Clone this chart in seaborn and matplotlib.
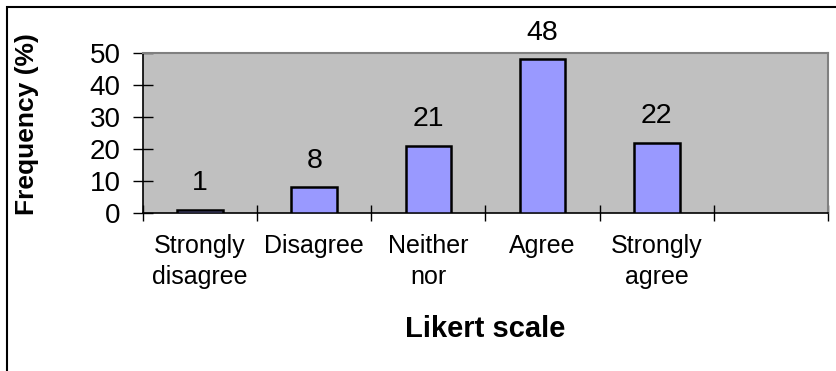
import matplotlib
matplotlib.use("Agg")
import matplotlib.pyplot as plt
import matplotlib.patches as mpatches
import numpy as np
import pandas as pd
import seaborn as sns

# Likert responses (percent of respondents); the sixth slot is an empty category
categories = ["Strongly\ndisagree", "Disagree", "Neither\nnor", "Agree", "Strongly\nagree", ""]
frequency = [1, 8, 21, 48, 22, np.nan]
y_ticks = [0, 10, 20, 30, 40, 50]

df = pd.DataFrame({"category": categories, "frequency": frequency})

sns.set_theme(style="white", rc={"text.color": "black", "axes.labelcolor": "black",
                                 "xtick.color": "black", "ytick.color": "black"})
plt.rcParams["font.family"] = ["Liberation Sans", "DejaVu Sans"]

W, H = 837, 371
fig = plt.figure(figsize=(W / 100, H / 100), dpi=100)
fig.patch.set_facecolor("white")

# plot area in pixel terms
left, right, top, bottom = 143, 828, 53, 213
ax = fig.add_axes([left / W, 1 - bottom / H, (right - left) / W, (bottom - top) / H])
ax.set_facecolor("#C0C0C0")

sns.barplot(data=df, x="category", y="frequency", order=categories,
            color="#9999FF", saturation=1, width=0.4,
            edgecolor="black", linewidth=1.8, ax=ax, zorder=3)

ax.set_xlim(-0.5, len(categories) - 0.5)
ax.set_ylim(0, 50)

# value labels above the bars
for i, v in enumerate(frequency):
    if not np.isnan(v):
        ax.annotate(f"{v:g}", xy=(i, v), xytext=(0, 14), textcoords="offset points",
                    ha="center", va="baseline", fontsize=20.5, color="black")

# y axis: crossing ticks
ax.set_yticks(y_ticks)
ax.set_yticklabels([str(t) for t in y_ticks])
ax.tick_params(axis="y", direction="inout", length=14, width=1, color="black",
               labelsize=20, pad=9, left=True, labelcolor="black")

# x axis: boundary ticks (major, unlabeled) and centred category labels (minor)
ax.set_xticks(np.arange(-0.5, len(categories), 1.0))
ax.set_xticklabels([])
ax.set_xticks(np.arange(len(categories)), minor=True)
ax.set_xticklabels(categories, minor=True)
ax.tick_params(axis="x", which="major", direction="inout", length=11, width=1,
               color="black", bottom=True)
ax.tick_params(axis="x", which="minor", length=0, labelsize=18, pad=15,
               labelcolor="black")
for lbl in ax.get_xticklabels(minor=True):
    lbl.set_linespacing(1.4)

for side in ["top", "right"]:
    ax.spines[side].set_color("#808080")
    ax.spines[side].set_linewidth(1.5)
for side in ["left", "bottom"]:
    ax.spines[side].set_color("black")
    ax.spines[side].set_linewidth(1.2)

ax.set_xlabel("Likert scale", fontsize=21, fontweight="bold", color="black")
ax.xaxis.label.set_va("baseline")
ax.xaxis.set_label_coords(0.5, (bottom - 337) / (bottom - top))

ax.set_ylabel("Frequency (%)", fontsize=19, fontweight="bold", color="black")
ax.yaxis.label.set_va("center")
ax.yaxis.set_label_coords((27 - left) / (right - left), (bottom - 124) / (bottom - top))

# chart frame (left and top edges visible)
fig.add_artist(mpatches.Rectangle((7 / W, -0.2), 1.5, 1.2 - 7 / H,
                                  transform=fig.transFigure, fill=False,
                                  edgecolor="black", linewidth=1.5))

fig.savefig("out.png", dpi=100, facecolor="white")
